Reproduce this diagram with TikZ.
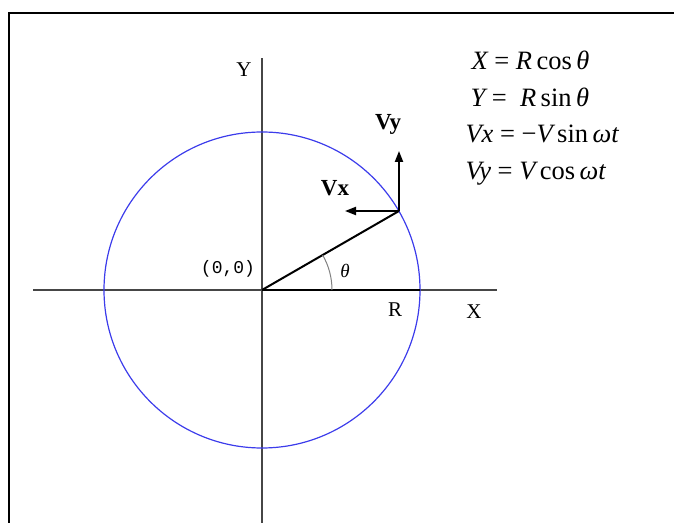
\documentclass[tikz,border=0pt]{standalone}
\usepackage{fontspec}
\setmainfont{Liberation Serif}
\newfontfamily\labfont{Liberation Mono}
\usetikzlibrary{arrows.meta}
\definecolor{circblue}{RGB}{60,60,235}
\definecolor{axisgray}{RGB}{70,70,70}
\begin{document}
\begin{tikzpicture}[x=1pt, y=1pt, >={Triangle[length=11pt,width=8pt]},
    eq/.style={anchor=base west, font=\fontsize{26.5}{28}\selectfont},
    lab/.style={font=\fontsize{21}{23}\selectfont},
    vlab/.style={font=\bfseries\fontsize{23}{25}\selectfont}]
  \useasboundingbox (0,0) rectangle (674,522);
  % frame
  \draw[line width=1.6pt] (9,-5) -- (9,509) -- (680,509);
  % points
  \coordinate (O) at (262,232);
  \coordinate (A) at (420,232);
  \coordinate (P) at (399,311);
  \coordinate (xl) at (33,232);
  \coordinate (xr) at (497,232);
  \coordinate (yb) at (262,-5);
  \coordinate (yt) at (262,464);
  \coordinate (vy) at (399,371);
  \coordinate (vx) at (345,311);
  % axes
  \draw[axisgray, line width=1.3pt] (xl) -- (xr);
  \draw[axisgray, line width=1.3pt] (yb) -- (yt);
  \draw[circblue, line width=1.2pt] (O) circle[radius=158];
  \draw[line width=2pt] (O) -- (P);
  \draw[line width=2pt] (O) -- (A);
  \draw[gray, line width=1pt] (O) ++(70,0) arc[start angle=0, end angle=30, radius=70];
  % velocity
  \draw[->, line width=2pt] (P) -- (vy);
  \draw[->, line width=2pt] (P) -- (vx);
  % labels
  \node[lab] (ylab) at (244,452) {Y};
  \node[lab] (xlab) at (474,210) {X};
  \node[lab] (rlab) at (395,212) {R};
  \node[font=\labfont\fontsize{18}{20}\selectfont] (olab) at (228,253) {(0,0)};
  \node[font=\itshape\fontsize{19}{21}\selectfont] (tlab) at (345,251) {θ};
  \node[vlab] (vxlab) at (335,334) {Vx};
  \node[vlab] (vylab) at (388,398) {Vy};
  % equations
  \node[eq] (e1) at (468,452) {\itshape X\upshape{} = \itshape R\upshape\,cos\,\itshape θ};
  \node[eq] (e2) at (467,415) {\itshape Y\upshape{} =\ \ \itshape R\upshape\,sin\,\itshape θ};
  \node[eq] (e3) at (462,379) {\itshape Vx\upshape{} = −\itshape V\upshape\,sin\,\itshape ωt};
  \node[eq] (e4) at (462,342) {\itshape Vy\upshape{} = \itshape V\upshape\,cos\,\itshape ωt};
\end{tikzpicture}
\end{document}
